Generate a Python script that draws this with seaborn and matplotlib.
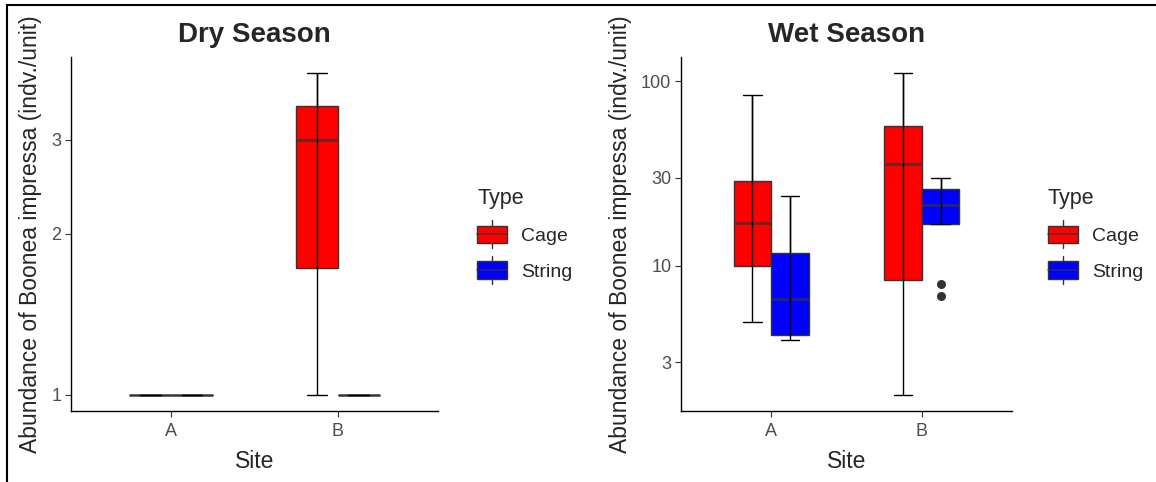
import numpy as np
import pandas as pd
import matplotlib
matplotlib.use("Agg")
import matplotlib.pyplot as plt
import seaborn as sns
from matplotlib.patches import Patch, Rectangle
from matplotlib.lines import Line2D
from matplotlib.legend_handler import HandlerPatch

# data (abundance per unit, log10 axis)
sites = ["A", "B"]
types = ["Cage", "String"]

dry_A_cage = [1, 1, 1, 1, 1]
dry_A_string = [1, 1, 1, 1, 1]
dry_B_cage = [1, 1.73, 3, 3.47, 4]
dry_B_string = [1, 1, 1, 1, 1]

wet_A_cage = [4.94, 10, 17.1, 28.7, 84.7]
wet_A_string = [3.96, 4.22, 6.58, 11.76, 23.9]
wet_B_cage = [2.0, 8.44, 35.5, 57.3, 110.9]
wet_B_string = [6.9, 8.0, 16.8, 18.5, 21.3, 23.5, 26.1, 28.0, 30.0]

dry_ticks = [1, 2, 3]
wet_ticks = [3, 10, 30, 100]

colors = {"Cage": "#FF0000", "String": "#0000FF"}
ylab = "Abundance of Boonea impressa (indv./unit)"


def make_df(groups):
    rows = []
    for (site, typ), vals in groups.items():
        for v in vals:
            rows.append({"Site": site, "Type": typ, "Abundance": v})
    return pd.DataFrame(rows)


dry = make_df({("A", "Cage"): dry_A_cage, ("A", "String"): dry_A_string,
               ("B", "Cage"): dry_B_cage, ("B", "String"): dry_B_string})
wet = make_df({("A", "Cage"): wet_A_cage, ("A", "String"): wet_A_string,
               ("B", "Cage"): wet_B_cage, ("B", "String"): wet_B_string})


class BoxKey(HandlerPatch):
    # ggplot style legend key: box with median and whisker stubs
    def create_artists(self, legend, orig_handle, xdescent, ydescent,
                       width, height, fontsize, trans):
        x0, y0 = -xdescent, -ydescent
        cx = x0 + width / 2
        stub = Line2D([cx, cx], [y0 - height * 0.3, y0 + height * 1.3],
                      color="#333333", lw=1, transform=trans)
        rect = Rectangle((x0, y0), width, height,
                         facecolor=orig_handle.get_facecolor(),
                         edgecolor="#333333", lw=1, transform=trans)
        mid = Line2D([x0, x0 + width], [y0 + height / 2] * 2,
                     color="#333333", alpha=0.7, lw=1.3, transform=trans)
        return [stub, rect, mid]


sns.set_style("white")
plt.rcParams["font.family"] = ["Liberation Sans", "DejaVu Sans"]

fig = plt.figure(figsize=(11.56, 4.82), dpi=100)
ax_dry = fig.add_axes([71 / 1156, 71 / 482, 367 / 1156, 354 / 482])
ax_wet = fig.add_axes([681 / 1156, 71 / 482, 331 / 1156, 354 / 482])

panels = [
    (ax_dry, dry, "Dry Season", dry_ticks, -0.079, 477),
    (ax_wet, wet, "Wet Season", wet_ticks, -0.148, 1048),
]

for ax, df, title, ticks, ylab_x, leg_x in panels:
    sns.boxplot(data=df, x="Site", y="Abundance", hue="Type",
                order=sites, hue_order=types, palette=colors,
                width=0.5, gap=0, saturation=1, log_scale=True,
                linecolor="#333333", linewidth=1,
                medianprops=dict(color="#333333", alpha=0.75, lw=2),
                flierprops=dict(marker="o", markerfacecolor="#333333",
                                markeredgecolor="#333333", markersize=5.5),
                ax=ax)

    # whisker runs through the box like stat_boxplot(geom="errorbar")
    for c in ax.containers:
        wh = c.whiskers
        for i in range(0, len(wh), 2):
            lo, hi = wh[i], wh[i + 1]
            lo.set_ydata([hi.get_ydata()[1], lo.get_ydata()[1]])
            lo.set_color("black")
            hi.set_color("black")
            lo.set_zorder(3)
            hi.set_zorder(3)
        for cap in c.caps:
            cap.set_color("black")
            cap.set_zorder(3)

    vals = np.log10(df["Abundance"].to_numpy())
    span = vals.max() - vals.min()
    ax.set_ylim(10 ** (vals.min() - 0.05 * span), 10 ** (vals.max() + 0.05 * span))
    ax.set_xlim(-0.6, 1.6)
    ax.set_yticks(ticks)
    ax.set_yticklabels([str(t) for t in ticks])
    ax.yaxis.set_minor_locator(matplotlib.ticker.NullLocator())

    ax.set_title(title, fontsize=20, fontweight="bold", pad=11)
    ax.set_xlabel("Site", fontsize=16.5)
    ax.set_ylabel(ylab, fontsize=16.5)
    ax.yaxis.set_label_coords(ylab_x, 0.5)
    ax.xaxis.set_label_coords(0.5, -0.11)

    for s in ["top", "right"]:
        ax.spines[s].set_visible(False)
    for s in ["left", "bottom"]:
        ax.spines[s].set_color("black")
        ax.spines[s].set_linewidth(1)
    ax.tick_params(axis="both", which="major", length=4, width=0.8,
                   color="#333333", labelcolor="#4D4D4D", labelsize=13,
                   left=True, bottom=True)
    ax.tick_params(axis="x", pad=5)
    ax.tick_params(axis="y", pad=3)

    leg = ax.get_legend()
    handles = leg.legend_handles
    labels = [t.get_text() for t in leg.get_texts()]
    leg.remove()
    ax.legend(handles, labels, title="Type", loc="upper left",
              bbox_to_anchor=(leg_x / 1156, 1 - 188 / 482),
              bbox_transform=fig.transFigure, frameon=False,
              fontsize=14, title_fontsize=15.5, alignment="left",
              handlelength=1.55, handleheight=1.0, handletextpad=0.7,
              labelspacing=0.85, borderpad=0, borderaxespad=0,
              handler_map={Patch: BoxKey(), Rectangle: BoxKey()})

# outer frame lines (left and top) as in the screenshot
fig.add_artist(Line2D([7 / 1156, 7 / 1156], [0, 1 - 5 / 482],
                      transform=fig.transFigure, color="black", lw=1.5))
fig.add_artist(Line2D([7 / 1156, 1], [1 - 5 / 482, 1 - 5 / 482],
                      transform=fig.transFigure, color="black", lw=1.5))

fig.savefig("out.png", dpi=100)
